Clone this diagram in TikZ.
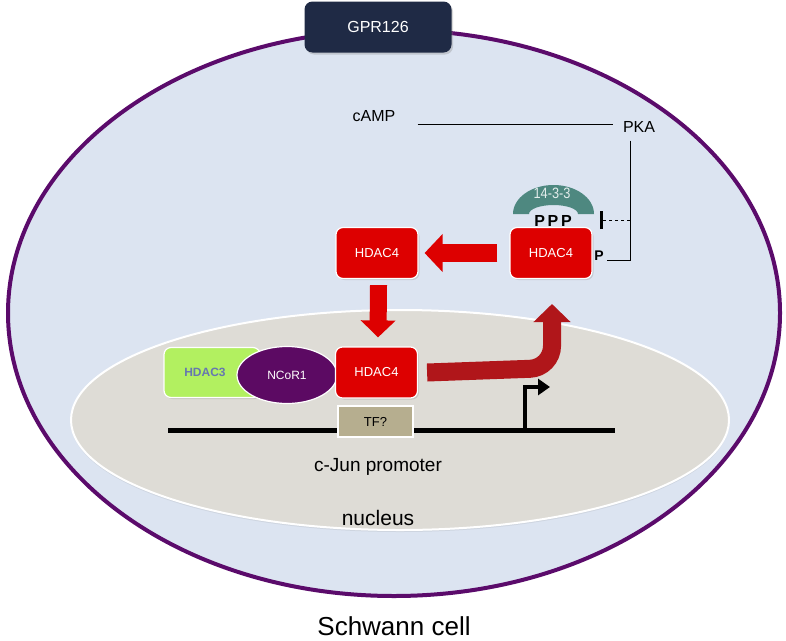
\documentclass[tikz,border=0pt]{standalone}
\usepackage{fontspec}
\setmainfont{Liberation Sans}
\usetikzlibrary{arrows.meta,shapes.geometric,shadows}
\definecolor{cellfill}{HTML}{DCE4F1}
\definecolor{cellline}{HTML}{5B0B6B}
\definecolor{navy}{HTML}{1F2A45}
\definecolor{nucfill}{HTML}{DEDCD6}
\definecolor{hdred}{HTML}{DD0000}
\definecolor{darkred}{HTML}{B0161A}
\definecolor{hgreen}{HTML}{B2F060}
\definecolor{hblue}{HTML}{6677B0}
\definecolor{ncor}{HTML}{5C0A63}
\definecolor{tfcol}{HTML}{B6AE8F}
\definecolor{teal}{HTML}{4E8880}
\tikzset{
  redbox/.style={draw=white, line width=1.2pt, fill=hdred, rounded corners=7pt, minimum width=82pt, minimum height=51pt, text=white, font=\fontsize{13}{15}\selectfont, drop shadow={opacity=0.25, shadow xshift=1.5pt, shadow yshift=-1.5pt}},
  fatarrow/.style={draw=hdred, line width=18pt, -{Triangle[width=37pt,length=18pt]}},
  lbl/.style={font=\fontsize{16}{18}\selectfont, text=black, inner sep=0pt},
}
\begin{document}
\begin{tikzpicture}[x=1pt,y=-1pt]
\useasboundingbox (0,0) rectangle (786,640);
% cell
\draw[line width=4pt, draw=cellline, fill=cellfill] (394,313) ellipse [x radius=386, y radius=283];
% GPR126
\node[fill=navy, rounded corners=8pt, minimum width=147pt, minimum height=51pt, text=white, font=\fontsize{16}{18}\selectfont, drop shadow={opacity=0.3, shadow xshift=1.5pt, shadow yshift=-2pt}] (gpr) at (378,27) {GPR126};
% nucleus
\draw[draw=white, line width=2pt, fill=nucfill, drop shadow={opacity=0.15, shadow xshift=0pt, shadow yshift=-2pt}] (400,420) ellipse [x radius=329, y radius=110];
% DNA
\coordinate (dnaL) at (168,430);
\coordinate (dnaR) at (615,430);
\draw[line width=5pt] (dnaL) -- (dnaR);
% promoter arrow
\coordinate (tss) at (525,430);
\coordinate (tssR) at (550,387);
\draw[line width=4pt, -{Triangle[width=16pt,length=12pt]}] (tss) -- (525,387) -- (tssR);
% TF
\node[draw=white, line width=1.5pt, fill=tfcol, minimum width=75pt, minimum height=31pt, font=\fontsize{13}{15}\selectfont] (tf) at (375.5,421.5) {TF?};
% HDAC3
\node[draw=white, line width=1.2pt, fill=hgreen, rounded corners=7pt, minimum width=96pt, minimum height=50pt, text=hblue, font=\bfseries\fontsize{12}{14}\selectfont, drop shadow={opacity=0.25, shadow xshift=1.5pt, shadow yshift=-1.5pt}] (h3) at (212,372.5) {\hspace{-14pt}HDAC3};
% NCoR1
\node[ellipse, draw=white, line width=1.2pt, fill=ncor, minimum width=100pt, minimum height=57pt, text=white, font=\fontsize{12}{14}\selectfont, inner sep=0pt] (ncor) at (287,375) {NCoR1};
% HDAC4 nuclear
\node[redbox] (h4n) at (376.5,372.5) {HDAC4};
% HDAC4 cytoplasm
\node[redbox] (h4l) at (377,253) {HDAC4};
\node[redbox] (h4r) at (551,253) {HDAC4};
% 14-3-3
\fill[teal] (513,214) arc[start angle=180, end angle=360, x radius=40.5, y radius=29] -- (578,214) arc[start angle=0, end angle=-180, x radius=24.5, y radius=9] -- cycle;
\node[text=white!85!teal, font=\fontsize{15}{17}\selectfont, inner sep=0pt] (p1433) at (552,193) {\scalebox{0.85}[1]{14-3-3}};
\node[font=\bfseries\fontsize{16}{18}\selectfont, inner sep=0pt] (ppp) at (553,221) {P\,P\,P};
\node[font=\bfseries\fontsize{14}{16}\selectfont, inner sep=0pt] (p1) at (599,256) {P};
% labels
\node[lbl] (camp) at (374,116) {cAMP};
\node[lbl] (pka) at (639,127) {PKA};
\node[font=\fontsize{19}{21}\selectfont, inner sep=0pt] (cjun) at (378,467) {c-Jun promoter};
\node[font=\fontsize{21}{23}\selectfont, inner sep=0pt] (nuc) at (378,518) {nucleus};
\node[font=\fontsize{26}{28}\selectfont, inner sep=0pt] (sc) at (394,626) {Schwann cell};
% cAMP - PKA line
\draw[line width=0.8pt] ([xshift=22pt,yshift=-8pt]camp.east) -- ([xshift=-10pt,yshift=3pt]pka.west);
% PKA -> P
\coordinate (corner) at (630,260);
\draw[line width=0.8pt] (pka.south -| corner) ++(0,8) -- (corner) -- ([xshift=3pt]p1.east |- corner);
% dashed inhibition
\coordinate (dstart) at (630,220);
\draw[line width=0.8pt, dashed, -{Bar[width=18pt,line width=2.5pt]}] (dstart) -- (600,220);
% fat arrows
\draw[fatarrow] ([xshift=-12pt]h4r.west) -- ([xshift=6pt]h4l.east);
\draw[fatarrow, line width=17pt, -{Triangle[width=34pt,length=17pt]}] ([xshift=1.5pt,yshift=-6pt]h4l.south) -- ([xshift=1.5pt,yshift=9pt]h4n.north);
\draw[draw=darkred, line width=18pt, rounded corners=22pt, -{Triangle[width=36pt,length=18pt]}] ([xshift=9pt]h4n.east) -- (552,368) -- (552,304);
\end{tikzpicture}
\end{document}
